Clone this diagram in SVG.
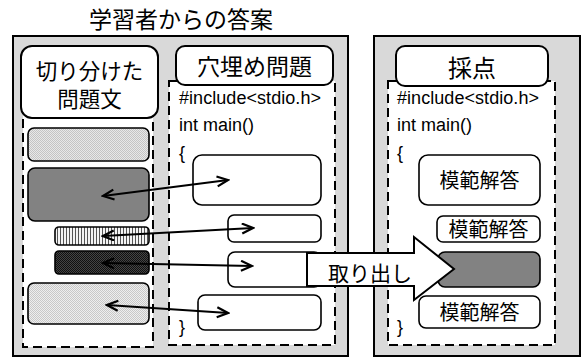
<svg xmlns="http://www.w3.org/2000/svg" width="581" height="358" viewBox="0 0 581 358">
<style>
.panel{fill:#d9d9d9;stroke:#000;stroke-width:2}
.dash{fill:#fff;stroke:#000;stroke-width:2;stroke-dasharray:9,5}
.lbl{fill:#fff;stroke:#000;stroke-width:2}
.box{fill:#fff;stroke:#000;stroke-width:1.6}
.jp{font-family:"Noto Sans CJK JP","Noto Sans",sans-serif;fill:#000;text-anchor:middle}
.code{font-family:"Liberation Sans","DejaVu Sans",sans-serif;font-size:18px;fill:#000}
.conn{fill:none;stroke:#000;stroke-width:2.2}
</style>
<defs>
<marker id="ah" markerUnits="userSpaceOnUse" markerWidth="14" markerHeight="14" refX="12" refY="6" orient="auto-start-reverse">
<path d="M1,1 L12,6 L1,11" fill="none" stroke="#000" stroke-width="2.2"/>
</marker>
<pattern id="p1" width="2" height="2" patternUnits="userSpaceOnUse">
<rect width="2" height="2" fill="#e8e8e8"/><rect width="1" height="1" fill="#c4c4c4"/><rect x="1" y="1" width="1" height="1" fill="#c4c4c4"/>
</pattern>
<pattern id="p3" width="3" height="3" patternUnits="userSpaceOnUse">
<rect width="3" height="3" fill="#f4f4f4"/><rect width="1" height="3" fill="#555"/>
</pattern>
<pattern id="p4" width="2" height="2" patternUnits="userSpaceOnUse">
<rect width="2" height="2" fill="#444"/><rect width="1" height="1" fill="#111"/><rect x="1" y="1" width="1" height="1" fill="#111"/>
</pattern>
<pattern id="p5" width="2" height="2" patternUnits="userSpaceOnUse">
<rect width="2" height="2" fill="#eeeeee"/><rect width="1" height="1" fill="#c8c8c8"/><rect x="1" y="1" width="1" height="1" fill="#c8c8c8"/>
</pattern>
</defs>

<text class="jp" x="181" y="28" font-size="23">学習者からの答案</text>

<g id="panel-answer">
<rect class="panel" x="13" y="36" width="335" height="320"/>
</g>
<g id="panel-grading">
<rect class="panel" x="374" y="36" width="206" height="320"/>
</g>

<g id="column-problems">
<rect class="dash" x="23" y="112" width="130" height="235"/>
<rect class="lbl" x="21" y="46" width="137" height="72" rx="11"/>
<text class="jp" x="89.5" y="79" font-size="21.5">切り分けた</text>
<text class="jp" x="89.5" y="107" font-size="21.5">問題文</text>
</g>

<g id="bar1"><rect x="28" y="128" width="121" height="33" rx="6" fill="url(#p1)" stroke="#000" stroke-width="1.6"/></g>
<g id="bar2"><rect x="28" y="168" width="121" height="53" rx="7" fill="#828282" stroke="#000" stroke-width="1.6"/></g>
<g id="bar3"><rect x="55" y="227" width="94" height="18" rx="4" fill="url(#p3)" stroke="#000" stroke-width="1.6"/></g>
<g id="bar4"><rect x="55" y="251" width="94" height="23" rx="4" fill="url(#p4)" stroke="#000" stroke-width="1.6"/></g>
<g id="bar5"><rect x="28" y="283" width="121" height="41" rx="6" fill="url(#p5)" stroke="#000" stroke-width="1.6"/></g>

<g id="column-fill">
<rect class="dash" x="169" y="81" width="166" height="264"/>
<rect class="lbl" x="176" y="46" width="157" height="39" rx="9"/>
<text class="jp" x="254.5" y="75" font-size="23">穴埋め問題</text>
<text class="code" x="179" y="104" textLength="142">#include&lt;stdio.h&gt;</text>
<text class="code" x="179" y="131">int main()</text>
<text class="code" x="179" y="159">{</text>
<text class="code" x="179" y="333">}</text>
</g>
<g id="blank1"><rect class="box" x="193" y="155" width="128" height="50" rx="9"/></g>
<g id="blank2"><rect class="box" x="228" y="215" width="93" height="27" rx="6"/></g>
<g id="blank3"><rect class="box" x="228" y="252" width="93" height="35" rx="7"/></g>
<g id="blank4"><rect class="box" x="198" y="295" width="123" height="35" rx="7"/></g>

<g id="column-grading">
<rect class="dash" x="388" y="81" width="167" height="264"/>
<rect class="lbl" x="396" y="46" width="152" height="40" rx="9"/>
<text class="jp" x="472" y="77" font-size="24">採点</text>
<text class="code" x="397" y="104" textLength="142">#include&lt;stdio.h&gt;</text>
<text class="code" x="397" y="131">int main()</text>
<text class="code" x="397" y="159">{</text>
<text class="code" x="397" y="333">}</text>
</g>
<g id="model1"><rect class="box" x="419" y="155" width="121" height="50" rx="9"/><text class="jp" x="479.5" y="188" font-size="20">模範解答</text></g>
<g id="model2"><rect class="box" x="437" y="216" width="103" height="26" rx="6"/><text class="jp" x="488.5" y="237" font-size="20">模範解答</text></g>
<g id="model3"><rect x="438" y="252" width="102" height="35" rx="7" fill="#828282" stroke="#000" stroke-width="1.6"/></g>
<g id="model4"><rect class="box" x="419" y="296" width="121" height="32" rx="7"/><text class="jp" x="479.5" y="320" font-size="20">模範解答</text></g>

<g id="connectors">
<line class="conn" x1="103" y1="196" x2="228" y2="180" marker-start="url(#ah)" marker-end="url(#ah)"/>
<line class="conn" x1="103" y1="236" x2="253" y2="228" marker-start="url(#ah)" marker-end="url(#ah)"/>
<line class="conn" x1="103" y1="263" x2="252" y2="266" marker-start="url(#ah)" marker-end="url(#ah)"/>
<line class="conn" x1="107" y1="305" x2="228" y2="313" marker-start="url(#ah)" marker-end="url(#ah)"/>
</g>

<g id="extract-arrow">
<path d="M307,253 L414,253 L414,237 L454,269 L414,300 L414,286 L307,286 Z" fill="#fff" stroke="#000" stroke-width="2" stroke-linejoin="miter"/>
<text class="jp" x="370" y="281" font-size="21">取り出し</text>
</g>
</svg>
